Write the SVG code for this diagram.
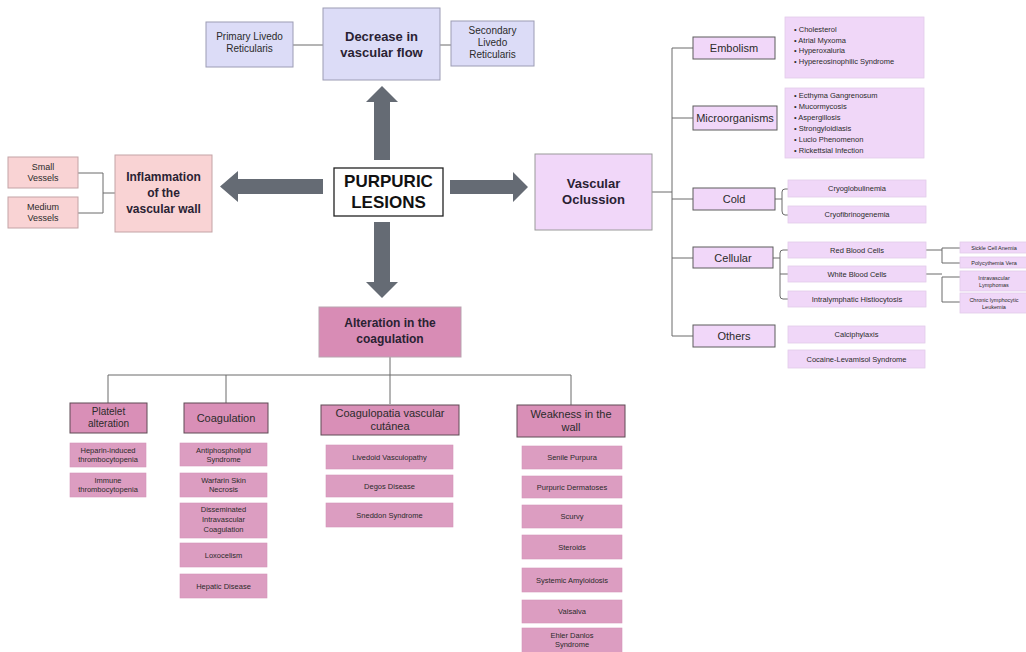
<svg xmlns="http://www.w3.org/2000/svg" width="1026" height="652" viewBox="0 0 1026 652">
<defs>
<style>
text{font-family:"Liberation Sans",Arial,sans-serif;fill:#2b2b2b;text-anchor:middle}
.b{font-weight:bold;fill:#2a2233}
.lav{fill:#dcdcf7;stroke:#9c9cb4;stroke-width:1}
.pinkl{fill:#f9d3d4;stroke:#c3a3a6;stroke-width:1}
.pur{fill:#f1d7f9;stroke:#9a9a9a;stroke-width:1}
.purh{fill:#f1d7f9;stroke:#5c5c5c;stroke-width:1}
.purl{fill:#f0d7f8;stroke:#e2cbe9;stroke-width:0.8}
.ph{fill:#d98fb7;stroke:#5e4a55;stroke-width:1}
.pl{fill:#dc9dc1;stroke:#d494b8;stroke-width:0.6}
.alt{fill:#d88cb5;stroke:#b9a3af;stroke-width:1}
.main{fill:#ffffff;stroke:#222;stroke-width:1.3}
.ln{fill:none;stroke:#6a6a6a;stroke-width:1}
.arr{fill:#656b74}
.t7{font-size:7.5px}
.t6{font-size:5.5px}
.t8{font-size:8px}
.t9{font-size:9px}
.t10{font-size:10px}
.t11{font-size:11px}
.lst{text-anchor:start;font-size:7.5px}
</style>
</defs>
<rect width="1026" height="652" fill="#ffffff"/>

<g id="connectors">
<!-- top -->
<path class="ln" d="M293 45H323M440 45H451"/>
<!-- inflammation bracket -->
<path class="ln" d="M78 173H103V213H78M103 193H115"/>
<!-- vascular trunk -->
<path class="ln" d="M652 192H672M672 48V336M672 48H693M672 118H693M672 199H693M672 258H693M672 336H693"/>
<!-- cold bracket -->
<path class="ln" d="M775 199H782M785 189H788M782 192V211M785 215H788M782 192Q782 189 785 189M782 211Q782 215 785 215"/>
<!-- cellular bracket -->
<path class="ln" d="M773 258H780M783 250H788M780 253V296M780 274H788M783 299H788M780 253Q780 250 783 250M780 296Q780 299 783 299"/>
<!-- rbc / wbc -->
<path class="ln" d="M926 250H942M942 248V263M942 248H960M942 263H960"/>
<path class="ln" d="M926 274H942M942 277V302M942 277H960M942 302H960"/>
<!-- bottom tree -->
<path class="ln" d="M390 357V375M108 375H571M108 375V403M226 375V403M390 375V404M571 375V405"/>
<!-- big arrows -->
<polygon class="arr" points="374,160 390,160 390,102 398,102 382,86 366,102 374,102"/>
<polygon class="arr" points="323,179 323,194 238,194 238,202 220,186.5 238,171 238,179"/>
<polygon class="arr" points="450,180 450,194 513,194 513,202 528,187 513,172 513,180"/>
<polygon class="arr" points="374,222 390,222 390,282 398,282 382,298 366,282 374,282"/>
</g>

<g id="purpuric">
<rect class="main" x="334" y="168" width="109" height="48"/>
<text class="b" x="388.5" y="187" font-size="17" style="fill:#111">PURPURIC</text>
<text class="b" x="388.5" y="208" font-size="17" style="fill:#111">LESIONS</text>
</g>

<g id="decrease">
<rect class="lav" x="323" y="8" width="117" height="72"/>
<text class="b" x="381.5" y="41" font-size="13">Decrease in</text>
<text class="b" x="381.5" y="57" font-size="13">vascular flow</text>
</g>
<g id="primary-livedo">
<rect class="lav" x="206" y="22" width="87" height="45"/>
<text class="t10" x="249.5" y="40">Primary Livedo</text>
<text class="t10" x="249.5" y="52">Reticularis</text>
</g>
<g id="secondary-livedo">
<rect class="lav" x="451" y="21" width="83" height="45"/>
<text class="t10" x="492.5" y="34">Secondary</text>
<text class="t10" x="492.5" y="46">Livedo</text>
<text class="t10" x="492.5" y="58">Reticularis</text>
</g>

<g id="inflammation">
<rect class="pinkl" x="115" y="155" width="97" height="77"/>
<text class="b" x="163.5" y="181" font-size="12">Inflammation</text>
<text class="b" x="163.5" y="197" font-size="12">of the</text>
<text class="b" x="163.5" y="213" font-size="12">vascular wall</text>
</g>
<g id="small-vessels">
<rect class="pinkl" x="8" y="157" width="70" height="31"/>
<text class="t9" x="43" y="170">Small</text>
<text class="t9" x="43" y="181">Vessels</text>
</g>
<g id="medium-vessels">
<rect class="pinkl" x="8" y="197" width="70" height="31"/>
<text class="t9" x="43" y="210">Medium</text>
<text class="t9" x="43" y="221">Vessels</text>
</g>

<g id="vascular-oclussion">
<rect class="pur" x="535" y="154" width="117" height="76"/>
<text class="b" x="593.5" y="188" font-size="13">Vascular</text>
<text class="b" x="593.5" y="204" font-size="13">Oclussion</text>
</g>

<g id="embolism">
<rect class="purh" x="693" y="37" width="82" height="22"/>
<text class="t11" x="734" y="52">Embolism</text>
</g>
<g id="embolism-list">
<rect class="purl" x="785" y="17" width="139" height="61"/>
<text class="lst" x="794" y="32">• Cholesterol</text>
<text class="lst" x="794" y="42.5">• Atrial Myxoma</text>
<text class="lst" x="794" y="53">• Hyperoxaluria</text>
<text class="lst" x="794" y="63.5">• Hypereosinophilic Syndrome</text>
</g>

<g id="microorganisms">
<rect class="purh" x="693" y="106" width="84" height="24"/>
<text class="t11" x="735" y="122">Microorganisms</text>
</g>
<g id="microorganisms-list">
<rect class="purl" x="785" y="88" width="139" height="70"/>
<text class="lst" x="794" y="98">• Ecthyma Gangrenosum</text>
<text class="lst" x="794" y="109">• Mucormycosis</text>
<text class="lst" x="794" y="120">• Aspergillosis</text>
<text class="lst" x="794" y="131">• Strongyloidiasis</text>
<text class="lst" x="794" y="142">• Lucio Phenomenon</text>
<text class="lst" x="794" y="153">• Rickettsial Infection</text>
</g>

<g id="cold">
<rect class="purh" x="693" y="188" width="82" height="22"/>
<text class="t11" x="734" y="203">Cold</text>
</g>
<g id="cryoglobulinemia">
<rect class="purl" x="788" y="180" width="138" height="17"/>
<text class="t7" x="857" y="191">Cryoglobulinemia</text>
</g>
<g id="cryofibrinogenemia">
<rect class="purl" x="788" y="206" width="138" height="17"/>
<text class="t7" x="857" y="217">Cryofibrinogenemia</text>
</g>

<g id="cellular">
<rect class="purh" x="693" y="247" width="80" height="21"/>
<text class="t11" x="733" y="261.5">Cellular</text>
</g>
<g id="red-blood-cells">
<rect class="purl" x="788" y="242" width="138" height="16"/>
<text class="t7" x="857" y="252.5">Red Blood Cells</text>
</g>
<g id="white-blood-cells">
<rect class="purl" x="788" y="266" width="138" height="16"/>
<text class="t7" x="857" y="276.5">White Blood Cells</text>
</g>
<g id="intralymphatic">
<rect class="purl" x="788" y="291" width="138" height="16"/>
<text class="t7" x="857" y="301.5">Intralymphatic Histiocytosis</text>
</g>
<g id="sickle-cell">
<rect class="purl" x="960" y="242" width="70" height="11"/>
<text class="t6" x="994" y="249.5">Sickle Cell Anemia</text>
</g>
<g id="polycythemia">
<rect class="purl" x="960" y="257" width="70" height="11"/>
<text class="t6" x="994" y="264.5">Polycythemia Vera</text>
</g>
<g id="intravascular-lymphomas">
<rect class="purl" x="960" y="271" width="70" height="20"/>
<text class="t6" x="994" y="279.5">Intravascular</text>
<text class="t6" x="994" y="286.5">Lymphomas</text>
</g>
<g id="cll">
<rect class="purl" x="960" y="293" width="70" height="20"/>
<text class="t6" x="994" y="301.5">Chronic lymphocytic</text>
<text class="t6" x="994" y="308.5">Leukemia</text>
</g>

<g id="others">
<rect class="purh" x="693" y="325" width="82" height="22"/>
<text class="t11" x="734" y="340">Others</text>
</g>
<g id="calciphylaxis">
<rect class="purl" x="788" y="326" width="137" height="17"/>
<text class="t7" x="856.5" y="337">Calciphylaxis</text>
</g>
<g id="cocaine">
<rect class="purl" x="788" y="350" width="137" height="18"/>
<text class="t7" x="856.5" y="361.5">Cocaine-Levamisol Syndrome</text>
</g>

<g id="alteration">
<rect class="alt" x="319" y="307" width="142" height="50"/>
<text class="b" x="390" y="327" font-size="12">Alteration in the</text>
<text class="b" x="390" y="343" font-size="12">coagulation</text>
</g>

<g id="platelet">
<rect class="ph" x="70" y="403" width="77" height="30"/>
<text class="t10" x="108.5" y="415">Platelet</text>
<text class="t10" x="108.5" y="427">alteration</text>
</g>
<g id="heparin">
<rect class="pl" x="70" y="443" width="76" height="24"/>
<text class="t7" x="108" y="453">Heparin-induced</text>
<text class="t7" x="108" y="462">thrombocytopenia</text>
</g>
<g id="immune">
<rect class="pl" x="70" y="473" width="76" height="24"/>
<text class="t7" x="108" y="483">Immune</text>
<text class="t7" x="108" y="492">thrombocytopenia</text>
</g>

<g id="coagulation">
<rect class="ph" x="184" y="403" width="84" height="30"/>
<text class="t11" x="226" y="422">Coagulation</text>
</g>
<g id="antiphospholipid">
<rect class="pl" x="180" y="443" width="87" height="23"/>
<text class="t7" x="223.5" y="452.5">Antiphospholipid</text>
<text class="t7" x="223.5" y="461.5">Syndrome</text>
</g>
<g id="warfarin">
<rect class="pl" x="180" y="473" width="87" height="24"/>
<text class="t7" x="223.5" y="483">Warfarin Skin</text>
<text class="t7" x="223.5" y="492">Necrosis</text>
</g>
<g id="dic">
<rect class="pl" x="180" y="503" width="87" height="35"/>
<text class="t7" x="223.5" y="512">Disseminated</text>
<text class="t7" x="223.5" y="522">Intravascular</text>
<text class="t7" x="223.5" y="532">Coagulation</text>
</g>
<g id="loxocelism">
<rect class="pl" x="180" y="543" width="87" height="24"/>
<text class="t7" x="223.5" y="557.5">Loxocelism</text>
</g>
<g id="hepatic">
<rect class="pl" x="180" y="574" width="87" height="24"/>
<text class="t7" x="223.5" y="588.5">Hepatic Disease</text>
</g>

<g id="coagulopatia">
<rect class="ph" x="321" y="405" width="138" height="30"/>
<text class="t11" x="390" y="417">Coagulopatia vascular</text>
<text class="t11" x="390" y="430">cutánea</text>
</g>
<g id="livedoid">
<rect class="pl" x="326" y="445" width="127" height="24"/>
<text class="t7" x="389.5" y="459.5">Livedoid Vasculopathy</text>
</g>
<g id="degos">
<rect class="pl" x="326" y="475" width="127" height="22"/>
<text class="t7" x="389.5" y="488.5">Degos Disease</text>
</g>
<g id="sneddon">
<rect class="pl" x="326" y="503" width="127" height="24"/>
<text class="t7" x="389.5" y="517.5">Sneddon Syndrome</text>
</g>

<g id="weakness">
<rect class="ph" x="517" y="405" width="108" height="32"/>
<text class="t11" x="571" y="418">Weakness in the</text>
<text class="t11" x="571" y="431">wall</text>
</g>
<g id="senile">
<rect class="pl" x="522" y="446" width="100" height="23"/>
<text class="t7" x="572" y="460">Senile Purpura</text>
</g>
<g id="purpuric-dermatoses">
<rect class="pl" x="522" y="476" width="100" height="22"/>
<text class="t7" x="572" y="489.5">Purpuric Dermatoses</text>
</g>
<g id="scurvy">
<rect class="pl" x="522" y="505" width="100" height="23"/>
<text class="t7" x="572" y="519">Scurvy</text>
</g>
<g id="steroids">
<rect class="pl" x="522" y="535" width="100" height="24"/>
<text class="t7" x="572" y="549.5">Steroids</text>
</g>
<g id="amyloidosis">
<rect class="pl" x="522" y="568" width="100" height="24"/>
<text class="t7" x="572" y="582.5">Systemic Amyloidosis</text>
</g>
<g id="valsalva">
<rect class="pl" x="522" y="600" width="100" height="23"/>
<text class="t7" x="572" y="614">Valsalva</text>
</g>
<g id="ehler-danlos">
<rect class="pl" x="522" y="628" width="100" height="26"/>
<text class="t7" x="572" y="637.5">Ehler Danlos</text>
<text class="t7" x="572" y="646.5">Syndrome</text>
</g>
</svg>
